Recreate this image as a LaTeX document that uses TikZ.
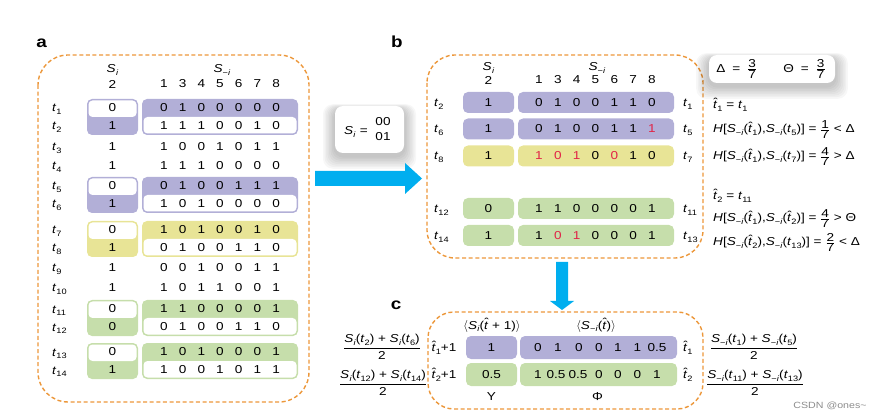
\documentclass[tikz,border=0pt]{standalone}
\usepackage{amsmath}
\usepackage{fontspec}
\setmainfont{Liberation Sans}[FakeStretch=1.18]
\definecolor{pur}{RGB}{178,175,215}
\definecolor{yel}{RGB}{232,228,150}
\definecolor{grn}{RGB}{198,222,171}
\definecolor{org}{RGB}{236,151,58}
\definecolor{blu}{RGB}{0,174,239}
\definecolor{redd}{RGB}{225,35,70}
\newcommand\mysub[1]{\raisebox{-0.45ex}{\fontsize{7.8pt}{8pt}\selectfont #1}}
\newcommand\myS{\textit{S}\kern0.02em\mysub{\textit{i}}}
\newcommand\mySm{\textit{S}\mysub{−\kern0.02em\textit{i}}}
\newcommand\myt[1]{\textit{t}\mysub{#1}}
\newcommand\myhat{\makebox[0pt][l]{\kern0.02em\raisebox{0.18em}{\symbol{"02C6}}}\textit{t}}
\newcommand\myht[1]{\myhat\mysub{#1}}
\newcommand\myfr[2]{$\genfrac{}{}{0.6pt}{0}{\text{#1}}{\text{#2}}$}
\newcommand\myfrs[2]{$\genfrac{}{}{0.6pt}{1}{\mbox{#1}}{\mbox{#2}}$}
\newcommand\redv[1]{\textcolor{redd}{#1}}
\begin{document}
\begin{tikzpicture}[x=1pt,y=-1pt,
  every node/.style={inner sep=0pt, font=\fontsize{11.5pt}{13pt}\selectfont},
  num/.style={anchor=center},
  lbl/.style={anchor=base west},
  dbox/.style={draw=org, line width=1.4pt, dash pattern=on 4pt off 2.6pt},
  pl/.style={anchor=base, font=\fontsize{16pt}{18pt}\selectfont\bfseries}]
\useasboundingbox (0,0) rectangle (880,419);

% panel labels
\node[pl] (la) at (41.5,48) {a};
\node[pl] (lb) at (397,48) {b};
\node[pl] (lc) at (396,309) {c};

% dashed frames
\draw[dbox, rounded corners=30pt] (38,55) rectangle (309,402);
\draw[dbox, rounded corners=28pt] (427,55) rectangle (703,258);
\draw[dbox, rounded corners=26pt] (428,312) rectangle (703,409);

% ---------- panel a ----------
\foreach \ya/\yb/\c in {99/135/pur, 177/213/pur, 221/257/yel, 300/336/grn, 343/379/grn}{
  \pgfmathsetmacro\ym{(\ya+\yb)/2}
  \fill[\c, rounded corners=5pt] (87,\ya) rectangle (138,\yb);
  \fill[white, rounded corners=4pt] (88.5,{\ya+1.5}) rectangle (136.5,\ym);
  \fill[\c, rounded corners=5pt] (142,\ya) rectangle (298,\yb);
  \fill[white, rounded corners=4pt] (143.5,\ym) rectangle (296.5,{\yb-1.5});
}
\node[anchor=base] (aSi) at (112.5,73) {\myS};
\node[num] (a2) at (112.5,84) {2};
\node[anchor=base] (aSm) at (222,73) {\mySm};
\foreach \n [count=\k from 0] in {1,3,4,5,6,7,8}
  \node[num] (ac\n) at ({164+18.67*\k},84) {\n};
\foreach \y/\s/\vals/\l in {
  108/0/{0,1,0,0,0,0,0}/1,
  126/1/{1,1,1,0,0,1,0}/2,
  147/1/{1,0,0,1,0,1,1}/3,
  166/1/{1,1,1,0,0,0,0}/4,
  186/0/{0,1,0,0,1,1,1}/5,
  204/1/{1,0,1,0,0,0,0}/6,
  230/0/{1,0,1,0,0,1,0}/7,
  248/1/{0,1,0,0,1,1,0}/8,
  268/1/{0,0,1,0,0,1,1}/9,
  288/1/{1,0,1,1,0,0,1}/10,
  309/0/{1,1,0,0,0,0,1}/11,
  327/0/{0,1,0,0,1,1,0}/12,
  352/0/{1,0,1,0,0,0,1}/13,
  370/1/{1,0,0,1,0,1,1}/14}{
  \node[lbl] (at\l) at (52,{\y+4}) {\myt{\l}};
  \node[num] (as\l) at (112.5,\y) {\s};
  \foreach \v [count=\k from 0] in \vals
    \node[num] (av\l-\k) at ({164+18.67*\k},\y) {\v};
}

% ---------- middle box and arrows ----------
\foreach \k in {1,...,8}
  \fill[black, opacity=0.03, rounded corners=10pt] ({335-\k*1.5},{109-\k*0.6}) rectangle ({404+\k*1.5},{156+\k*1.6});
\fill[white, rounded corners=8pt] (335,106) rectangle (404,153);
\node[anchor=base west] (mS) at (344,135) {\myS\hspace{0.35em}=};
\node[num] (m00) at (383,122) {00};
\node[num] (m01) at (383,137) {01};

\fill[blu] (315,171) -- (405,171) -- (405,163) -- (422,178.5) -- (405,194) -- (405,186) -- (315,186) -- cycle;
\fill[blu] (556,262) -- (568,262) -- (568,301) -- (574,301) -- (562,310) -- (550,301) -- (556,301) -- cycle;

% ---------- panel b ----------
\node[anchor=base] (bSi) at (488.5,71) {\myS};
\node[num] (b2) at (488.5,80) {2};
\node[anchor=base] (bSm) at (597,71) {\mySm};
\foreach \n [count=\k from 0] in {1,3,4,5,6,7,8}
  \node[num] (bc\n) at ({539+18.83*\k},80) {\n};
\foreach \y/\l/\s/\vals/\r/\c in {
  102.5/2/1/{0,1,0,0,1,1,0}/1/pur,
  129/6/1/{0,1,0,0,1,1,\redv1}/5/pur,
  156/8/1/{\redv1,\redv0,\redv1,0,\redv0,1,0}/7/yel,
  208.5/12/0/{1,1,0,0,0,0,1}/11/grn,
  235.5/14/1/{1,\redv0,\redv1,0,0,0,1}/13/grn}{
  \fill[\c, rounded corners=5pt] (463,{\y-10.5}) rectangle (514,{\y+10.5});
  \fill[\c, rounded corners=5pt] (518,{\y-10.5}) rectangle (674,{\y+10.5});
  \node[lbl] (bt\l) at (434,{\y+4}) {\myt{\l}};
  \node[num] (bs\l) at (488.5,\y) {\s};
  \foreach \v [count=\k from 0] in \vals
    \node[num] (bv\l-\k) at ({539+18.83*\k},\y) {\v};
  \node[lbl] (br\r) at (683,{\y+4}) {\myt{\r}};
}

% Delta / Theta box
\foreach \k in {1,...,8}
  \fill[black, opacity=0.03, rounded corners=10pt] ({709-\k*1.6},{58-\k*0.6}) rectangle ({835+\k*1.6},{86+\k*1.6});
\fill[white, rounded corners=8pt] (709,55) rectangle (835,83);
\node (dt) at (771,69) {Δ\hspace{0.6em}=\hspace{0.6em}\myfrs{3}{7}\hspace{2.3em}Θ\hspace{0.6em}=\hspace{0.6em}\myfrs{3}{7}};

% annotations
\node[lbl] (h1) at (713,109) {\myht{1} = \myt{1}};
\node[lbl] (h2) at (713,133) {\textit{H}[\mySm(\myht{1}),\mySm(\myt{5})] = \myfrs{1}{7} < Δ};
\node[lbl] (h3) at (713,160) {\textit{H}[\mySm(\myht{1}),\mySm(\myt{7})] = \myfrs{4}{7} > Δ};
\node[lbl] (h4) at (713,200) {\myht{2} = \myt{11}};
\node[lbl] (h5) at (713,222) {\textit{H}[\mySm(\myht{1}),\mySm(\myht{2})] = \myfrs{4}{7} > Θ};
\node[lbl] (h6) at (713,246) {\textit{H}[\mySm(\myht{2}),\mySm(\myt{13})] = \myfrs{2}{7} < Δ};

% ---------- panel c ----------
\fill[pur, rounded corners=5pt] (466,336) rectangle (517,359);
\fill[pur, rounded corners=5pt] (520,336) rectangle (677,359);
\fill[grn, rounded corners=5pt] (466,363) rectangle (517,386);
\fill[grn, rounded corners=5pt] (520,363) rectangle (677,386);
\node[anchor=base] (ch1) at (492,329) {$\langle$\myS(\myhat\ + 1)$\rangle$};
\node[anchor=base] (ch2) at (596,329) {$\langle$\mySm(\myhat)$\rangle$};
\node[anchor=base] (cr1) at (444,351.5) {\myht{1}+1};
\node[anchor=base] (cr2) at (444,378.5) {\myht{2}+1};
\node[num] (cs1) at (491.5,347.5) {1};
\node[num] (cs2) at (491.5,374.5) {0.5};
\foreach \v/\x [count=\k from 0] in {0/538,1/558,0/579,0/599,1/618,1/637.5,0.5/657}
  \node[num] (cp\k) at (\x,347.5) {\v};
\foreach \v/\x [count=\k from 0] in {1/538,0.5/556,0.5/578,0/599,0/618,0/637.5,1/657}
  \node[num] (cq\k) at (\x,374.5) {\v};
\node[lbl] (ct1) at (683,351.5) {\myht{1}};
\node[lbl] (ct2) at (683,378.5) {\myht{2}};
\node[num] (ups) at (491.5,397) {Υ};
\node[num] (phi) at (597.5,397) {Φ};
\node (f1) at (382,347) {\myfr{\myS(\myt{2}) + \myS(\myt{6})}{2}};
\node (f2) at (383,383) {\myfr{\myS(\myt{12}) + \myS(\myt{14})}{2}};
\node (f3) at (754,347) {\myfr{\mySm(\myt{1}) + \mySm(\myt{5})}{2}};
\node (f4) at (755,383) {\myfr{\mySm(\myt{11}) + \mySm(\myt{13})}{2}};

\node[font=\fontsize{9pt}{10pt}\selectfont, text=black!45] (wm) at (830,406) {CSDN @ones\textasciitilde};
\end{tikzpicture}
\end{document}
